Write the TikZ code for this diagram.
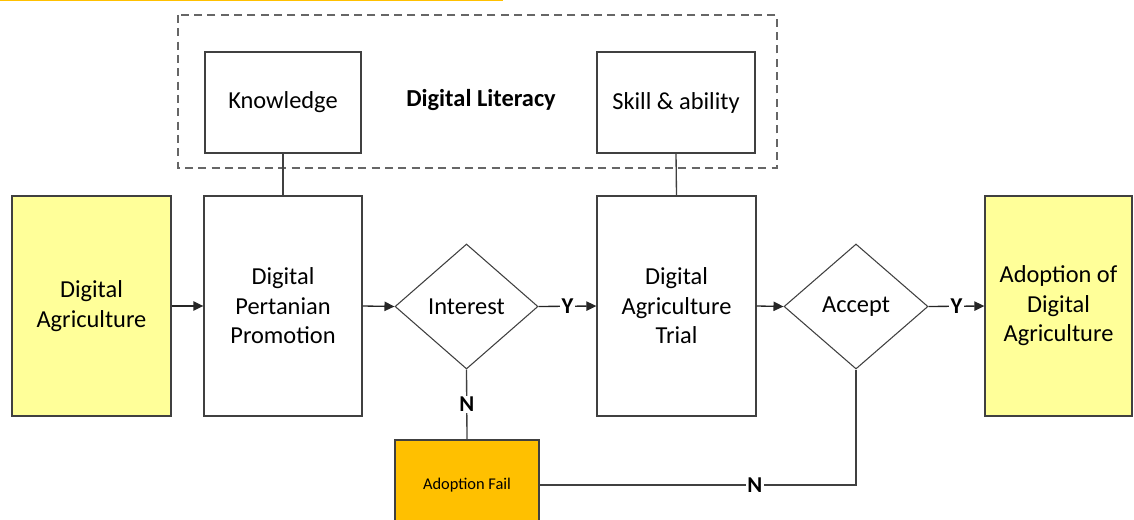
\documentclass[tikz,border=0pt]{standalone}
\usepackage{fontspec}
\setmainfont{Carlito}
\usetikzlibrary{shapes.geometric,arrows.meta}
\definecolor{edge}{HTML}{404040}
\definecolor{paleyellow}{HTML}{FFFF99}
\definecolor{amber}{HTML}{FFC000}
\begin{document}
\begin{tikzpicture}[x=0.75pt,y=-0.75pt,
  box/.style={draw=edge,line width=1pt,rectangle,align=center,inner sep=2pt,
    font=\fontsize{18.3}{22.2}\selectfont},
  tall/.style={box,minimum height=165pt},
  small/.style={box,minimum height=75.75pt},
  decision/.style={draw=edge,line width=0.8pt,diamond,inner sep=0pt,
    minimum width=107.25pt,minimum height=93.75pt,font=\fontsize{18.3}{22}\selectfont},
  flow/.style={line width=1pt,draw=black!85,-{Triangle[length=7.5pt,width=7pt]}},
  link/.style={line width=1pt,draw=edge},
  yn/.style={font=\bfseries\fontsize{17}{19}\selectfont,fill=white,inner sep=1pt}]
\useasboundingbox (0,0) rectangle (1134,520);
% thin rule along the top edge
\draw[amber,line width=1.5pt] (0,0.5) -- (503,0.5);
% digital literacy group
\draw[edge!80,line width=1.3pt,dash pattern=on 6pt off 4pt] (178,15) rectangle (777,168);
\node[small,minimum width=117pt] (know) at (283,102.5) {Knowledge};
\node[small,minimum width=118.5pt] (skill) at (676,102.5) {Skill \& ability};
\node[font=\bfseries\fontsize{18.3}{22}\selectfont] (lit) at (481,100) {Digital Literacy};
% main flow
\node[tall,fill=paleyellow,minimum width=119.25pt] (da) at (91.5,306) {Digital\\Agriculture};
\node[tall,minimum width=118.5pt] (promo) at (283,306) {Digital\\Pertanian\\Promotion};
\node[decision] (interest) at (466.5,306.5) {Interest};
\node[tall,minimum width=119.25pt] (trial) at (676.5,306) {Digital\\Agriculture\\Trial};
\node[decision,minimum width=108pt] (accept) at (856,306.5) {\raisebox{-1.5pt}{Accept}};
\node[tall,fill=paleyellow,minimum width=110.25pt] (adopt) at (1058.5,306) {Adoption of\\Digital\\Agriculture};
\node[box,fill=amber,minimum width=108pt,minimum height=67.5pt,
  font=\fontsize{12.3}{14}\selectfont] (fail) at (467,485) {Adoption Fail};
% connectors
\draw[link] (know.south) -- (promo.north);
\draw[link] (skill.south) -- (trial.north);
\draw[flow] (da.east) -- (promo.west);
\draw[flow] (promo.east) -- (interest.west);
\draw[flow] (interest.east) -- node[yn,pos=0.5] {Y} (trial.west);
\draw[flow] (trial.east) -- (accept.west);
\draw[flow] (accept.east) -- node[yn,pos=0.5] {Y} (adopt.west);
\draw[link] (interest.south) -- node[yn] {N} (fail.north);
\draw[link] (fail.east) -- node[yn,pos=0.68] {N} (fail.east -| accept.south) -- (accept.south);
\end{tikzpicture}
\end{document}
